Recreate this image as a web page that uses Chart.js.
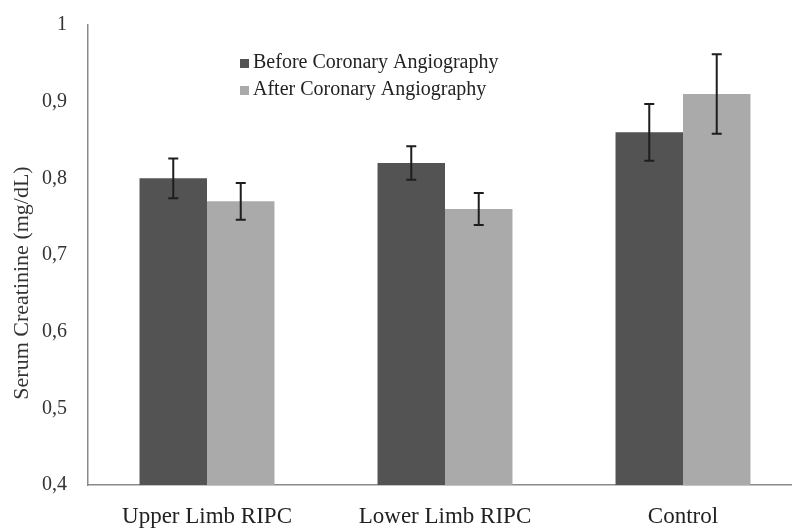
<!DOCTYPE html>
<html>
<head>
<meta charset="utf-8">
<script src="https://cdn.jsdelivr.net/npm/chart.js@4.4.0/dist/chart.umd.min.js"></script>
<style>
  html, body { margin: 0; padding: 0; background: #fff; overflow: hidden; }
  #wrap { width: 804px; height: 530px; }
</style>
</head>
<body>
<div id="wrap"><canvas id="chart" width="804" height="530"></canvas></div>
<script>
// categories and values
const groups = ['Upper Limb RIPC', 'Lower Limb RIPC', 'Control'];
const beforeValues = [0.80, 0.82, 0.86];
const afterValues = [0.77, 0.76, 0.91];
const beforeErrors = [0.026, 0.022, 0.037];
const afterErrors = [0.024, 0.021, 0.052];
const yTickLabels = ['0,4', '0,5', '0,6', '0,7', '0,8', '0,9', '1'];
const yTitle = 'Serum Creatinine (mg/dL)';

const serif = '"Liberation Serif", "Times New Roman", serif';

// draws the mean +/- error whiskers on top of each bar
const errorBars = {
    id: 'errorBars',
    afterDatasetsDraw(chart) {
        const ctx = chart.ctx;
        const y = chart.scales.y;
        const errs = [beforeErrors, afterErrors];
        ctx.save();
        ctx.strokeStyle = '#1e1e1e';
        ctx.lineWidth = 2;
        chart.data.datasets.forEach((ds, i) => {
            chart.getDatasetMeta(i).data.forEach((bar, j) => {
                const v = ds.data[j];
                const top = y.getPixelForValue(v + errs[i][j]);
                const bot = y.getPixelForValue(v - errs[i][j]);
                ctx.beginPath();
                ctx.moveTo(bar.x, top);
                ctx.lineTo(bar.x, bot);
                ctx.moveTo(bar.x - 5, top);
                ctx.lineTo(bar.x + 5, top);
                ctx.moveTo(bar.x - 5, bot);
                ctx.lineTo(bar.x + 5, bot);
                ctx.stroke();
            });
        });
        ctx.restore();
    }
};

// legend inside the plot area + y title (sits a bit below centre in the original)
const extras = {
    id: 'extras',
    afterDraw(chart) {
        const ctx = chart.ctx;
        ctx.save();
        ctx.font = '20px ' + serif;
        ctx.textBaseline = 'middle';
        chart.data.datasets.forEach((ds, i) => {
            const yy = 63 + i * 27;
            ctx.fillStyle = ds.backgroundColor;
            ctx.fillRect(240, yy - 4, 9, 9);
            ctx.fillStyle = '#222';
            ctx.fillText(ds.label, 253, yy);
        });

        ctx.translate(22, 283);
        ctx.rotate(-Math.PI / 2);
        ctx.textAlign = 'center';
        ctx.font = '22px ' + serif;
        ctx.fillStyle = '#333';
        ctx.fillText(yTitle, 0, 0);
        ctx.restore();
    }
};

new Chart(document.getElementById('chart'), {
    type: 'bar',
    data: {
        labels: groups,
        datasets: [
            { label: 'Before Coronary Angiography', data: beforeValues, backgroundColor: '#535353' },
            { label: 'After Coronary Angiography', data: afterValues, backgroundColor: '#aaaaaa' }
        ]
    },
    options: {
        responsive: false,
        animation: false,
        layout: { padding: { top: 20, right: 2, left: 0, bottom: 0 } },
        datasets: { bar: { barPercentage: 1, categoryPercentage: 0.567 } },
        plugins: { legend: { display: false }, tooltip: { enabled: false } },
        scales: {
            x: {
                grid: { display: false },
                border: { color: '#8a8a8a', width: 1.5 },
                ticks: { color: '#222', font: { family: serif, size: 23 }, padding: 10 },
                afterFit(scale) { scale.height = 45; }
            },
            y: {
                min: 0.4,
                max: 1,
                grid: { display: false },
                border: { color: '#8a8a8a', width: 1.5 },
                ticks: {
                    stepSize: 0.1,
                    color: '#333',
                    padding: 13,
                    font: { family: serif, size: 20 },
                    callback: (v, i) => yTickLabels[i]
                },
                afterFit(scale) { scale.width = 88; }
            }
        }
    },
    plugins: [errorBars, extras]
});
</script>
</body>
</html>
